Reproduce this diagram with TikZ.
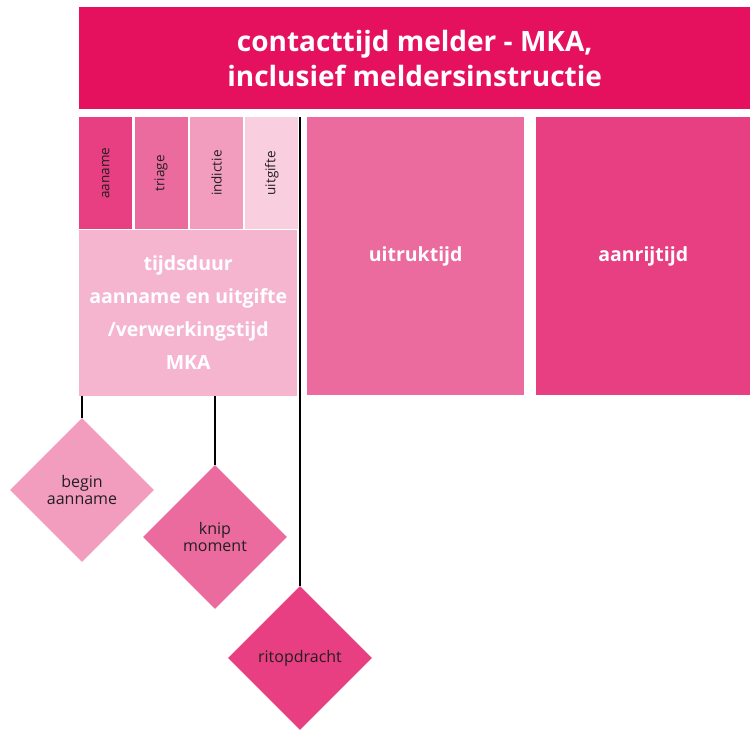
\documentclass[tikz,border=0pt]{standalone}
\usepackage{fontspec}
\setmainfont{Open Sans}
\usetikzlibrary{positioning,shapes.geometric}
\definecolor{mkared}{HTML}{E5115F}
\definecolor{pinkA}{HTML}{E83E82}
\definecolor{pinkB}{HTML}{EC6B9E}
\definecolor{pinkC}{HTML}{F39DBE}
\definecolor{pinkD}{HTML}{F9CEDF}
\definecolor{pinkE}{HTML}{F6B5CF}
\definecolor{darktext}{HTML}{231F20}
\begin{document}
\begin{tikzpicture}[x=1pt, y=-1pt]
  % Define styles
  \tikzstyle{block} = [rectangle, anchor=north west, inner sep=0pt, text=white,
                       align=center, font=\bfseries\fontsize{19.5}{33}\selectfont]
  \tikzstyle{phase} = [rectangle, anchor=north west, minimum width=53pt, minimum height=112pt,
                       inner sep=0pt, text=darktext, font=\fontsize{13.5}{15}\selectfont]
  \tikzstyle{moment} = [diamond, aspect=1, minimum width=144pt, minimum height=144pt,
                        inner sep=0pt, align=center, text=darktext, font=\fontsize{16}{17}\selectfont]
  \tikzstyle{line} = [line width=1.2pt, black]

  \useasboundingbox (0,0) rectangle (750,729);

  % Nodes
  \node (contact) [block, fill=mkared, minimum width=671pt, minimum height=102pt,
                   font=\bfseries\fontsize{28}{35}\selectfont] at (79,7)
        {contacttijd melder - MKA,\\inclusief meldersinstructie};
  \node (aaname) [phase, fill=pinkA] at (79,117) {\rotatebox{90}{aaname}};
  \node (triage) [phase, fill=pinkB, right=2pt of aaname] {\rotatebox{90}{triage}};
  \node (indictie) [phase, fill=pinkC, right=2pt of triage] {\rotatebox{90}{indictie}};
  \node (uitgifte) [phase, fill=pinkD, right=2pt of indictie] {\rotatebox{90}{uitgifte}};
  \node (tijdsduur) [block, fill=pinkE, minimum width=218pt, minimum height=166pt] at (aaname.south west)
        {tijdsduur\\aanname en uitgifte\\/verwerkingstijd\\MKA};
  \node (uitruk) [block, fill=pinkB, minimum width=217pt, minimum height=278pt] at (307,117) {uitruktijd};
  \node (aanrij) [block, fill=pinkA, minimum width=214pt, minimum height=278pt] at (536,117) {aanrijtijd};

  \node (begin) [moment, fill=pinkC] at (82,490) {begin\\aanname};
  \node (knip) [moment, fill=pinkB] at (215,537) {knip\\moment};
  \node (opdracht) [moment, fill=pinkA] at (300,658) {ritopdracht};

  % Lines
  \draw [line] (tijdsduur.south -| begin.north) -- (begin.north);
  \draw [line] (tijdsduur.south -| knip.north) -- (knip.north);
  \draw [line] (aaname.north -| opdracht.north) -- (opdracht.north);
\end{tikzpicture}
\end{document}
